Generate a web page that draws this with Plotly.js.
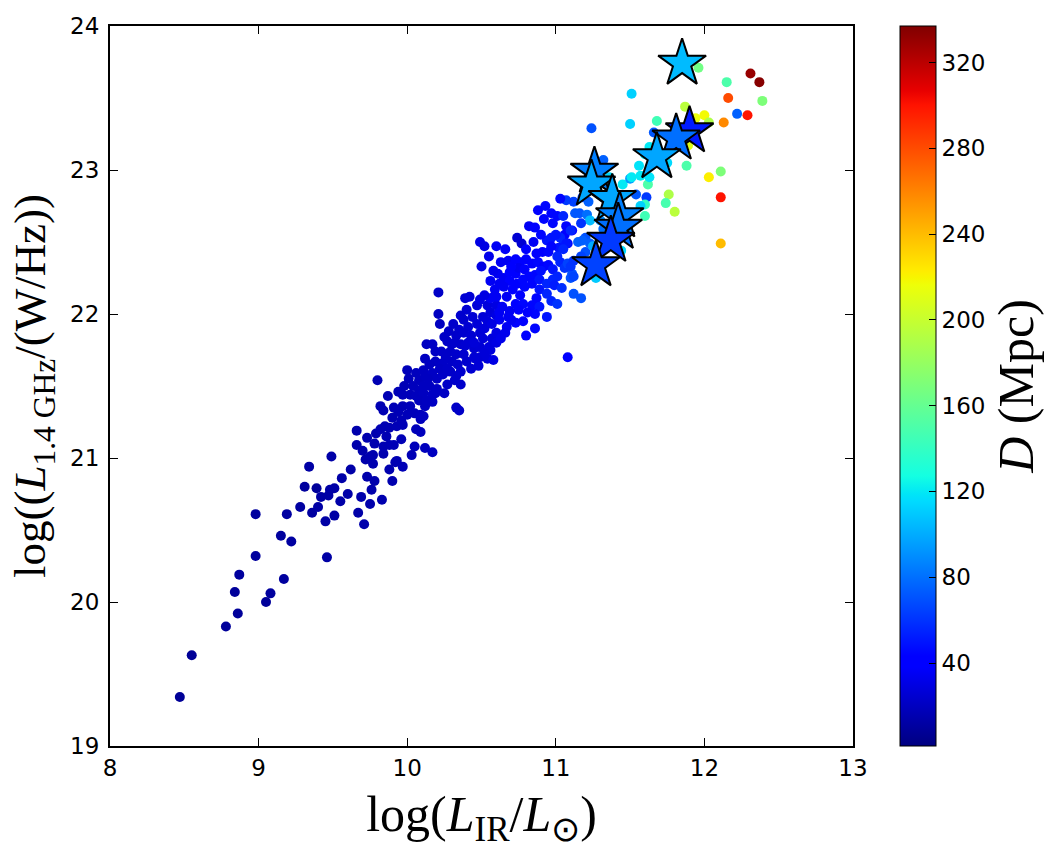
<!DOCTYPE html>
<html>
<head>
<meta charset="utf-8">
<script src="https://cdn.plot.ly/plotly-3.0.1.min.js"></script>
<style>
  html, body { margin: 0; padding: 0; background: #fff; }
  #chart { width: 1063px; height: 856px; }
</style>
</head>
<body>
<div id="chart"></div>
<script>
// Galaxy sample: infrared luminosity, 1.4 GHz radio luminosity, distance
const logLIR = [
  8.47, 8.55, 8.78, 8.86, 8.84, 8.87, 8.98, 8.98, 9.05, 9.08, 9.17, 9.15, 9.22, 9.19, 9.28, 9.36, 9.40, 9.31, 9.39, 9.34,
  9.42, 9.47, 9.48, 9.51, 9.45, 9.51, 9.46, 9.49, 9.56, 9.67, 9.71, 9.69, 9.75, 9.73, 9.76, 9.78, 9.83, 9.72, 9.75, 9.77,
  9.77, 9.84, 9.90, 9.92,
  10.21, 10.21, 10.22, 10.39, 10.42, 10.47, 10.54, 10.59, 10.60, 10.56, 10.60, 10.51, 10.54, 10.38, 10.41, 10.35, 10.33, 10.38, 10.43, 10.49,
  10.51, 10.57, 10.60, 10.27, 10.30, 10.36, 10.41, 10.45, 10.49, 10.55, 10.60, 10.13, 10.17, 10.12, 10.19, 10.23, 10.29, 10.33, 10.38, 10.19,
  10.24, 10.30, 10.34, 10.40, 10.45, 10.49, 10.54, 10.56, 10.46, 10.48, 10.58, 10.00, 10.01, 10.06, 10.08, 10.11, 10.12, 10.17, 10.20, 10.24,
  10.29, 10.33, 10.36, 10.32, 9.80, 10.04, 10.08, 10.11, 10.15, 10.20, 10.27, 9.94, 9.97, 10.02, 10.06, 10.11, 10.17, 10.19, 9.87, 9.82,
  9.84, 9.91, 9.94, 9.97, 10.02, 10.05, 10.09, 10.12, 10.17, 10.09, 10.11, 10.33, 10.35, 9.79, 9.82, 9.85, 9.88, 9.93, 9.96, 9.97,
  9.66, 9.66, 9.73, 9.84, 9.88, 9.91, 9.96, 10.05, 10.12, 10.17, 10.09, 9.93, 9.97,
  10.82, 11.07, 11.11, 11.06, 11.08, 11.03, 11.05, 11.02, 10.94, 10.97, 10.74, 10.77, 10.85, 10.49, 10.52, 10.50, 10.68, 10.73, 10.76, 10.80,
  10.84, 10.88, 10.92, 10.95, 10.98, 11.01, 10.91, 10.95, 10.97, 11.01, 11.03, 11.06, 11.08, 11.11, 11.10, 11.12, 11.12, 11.17, 11.08, 11.20,
  11.23, 11.20, 11.17, 11.30, 10.61, 10.65, 10.62, 10.69, 10.73, 10.75, 10.79, 10.82, 10.86, 10.69, 10.74, 10.78, 10.84, 10.89, 10.94, 10.98,
  10.89, 10.94, 10.87, 10.84, 10.89, 10.97, 11.01, 10.94, 10.71, 10.76, 10.79, 10.67, 10.73, 10.78, 10.75, 10.69, 10.64, 10.56, 10.59, 10.60,
  10.56, 10.52, 10.49, 10.62, 10.68, 10.73, 10.78, 10.67, 10.62, 10.80, 10.86,
  11.45, 11.50, 11.62, 11.54, 11.61, 11.60, 11.57, 11.60, 11.12, 11.07, 11.03, 10.93, 10.97, 11.01, 10.98, 11.13, 11.16, 11.21, 11.23, 11.17,
  11.10, 11.07, 11.15, 11.18, 11.12, 11.10, 11.25, 11.44, 11.27, 11.32, 11.36, 11.18, 11.22, 11.51, 11.57, 11.63, 11.56, 11.75, 11.63, 11.60,
  11.32,
  11.51, 11.50, 11.24, 11.68, 11.66, 11.87, 11.94, 12.00, 12.03, 11.89, 11.88, 12.03, 12.11, 12.11, 12.11, 11.76, 11.74, 11.80, 11.96, 12.15,
  12.31, 12.37, 12.39, 12.16, 12.29, 12.22, 12.13,
  10.44, 10.47, 10.52, 10.40, 10.36, 10.31, 10.28, 10.26, 10.22, 10.15, 10.14, 10.27, 10.43, 10.36, 10.52, 10.63, 10.66, 10.70, 10.65, 10.70,
  10.63, 10.58, 10.55, 10.60, 10.66, 10.80, 10.87, 10.90, 10.86, 10.92, 10.88, 11.00, 11.05, 10.99, 11.04, 11.05, 10.90, 10.86, 10.81, 10.57,
  10.45, 10.39, 10.32, 10.25, 10.08, 10.00, 9.98, 10.13, 10.25, 9.90, 9.86, 9.78, 9.70, 9.62, 9.60, 9.55, 9.88, 10.03, 10.06
];
const logL14 = [
  19.34, 19.63, 19.83, 19.92, 20.07, 20.19, 20.32, 20.61, 20.00, 20.06, 20.16, 20.46, 20.42, 20.61, 20.66, 20.62, 20.66, 20.80, 20.79, 20.94,
  20.73, 20.74, 20.78, 20.79, 20.56, 20.60, 20.31, 21.01, 20.86, 20.62, 20.54, 20.73, 20.68, 20.87, 20.78, 20.84, 20.71, 20.99, 21.01, 21.02,
  20.96, 21.03, 20.84, 20.97,
  22.15, 22.00, 21.93, 22.11, 22.12, 22.06, 22.06, 22.13, 22.06, 22.01, 21.99, 21.98, 21.95, 21.96, 21.91, 21.89, 21.85, 21.87, 21.85, 21.87,
  21.83, 21.83, 21.87, 21.81, 21.79, 21.79, 21.80, 21.76, 21.77, 21.77, 21.80, 21.79, 21.79, 21.69, 21.74, 21.74, 21.74, 21.72, 21.72, 21.67,
  21.66, 21.67, 21.65, 21.67, 21.70, 21.70, 21.69, 21.75, 21.69, 21.64, 21.68, 21.61, 21.55, 21.59, 21.54, 21.61, 21.57, 21.59, 21.55, 21.58,
  21.60, 21.57, 21.51, 21.54, 21.54, 21.50, 21.47, 21.50, 21.50, 21.48, 21.51, 21.46, 21.44, 21.44, 21.43, 21.45, 21.44, 21.45, 21.43, 21.36,
  21.33, 21.35, 21.32, 21.36, 21.36, 21.31, 21.30, 21.36, 21.39, 21.27, 21.29, 21.35, 21.33, 21.17, 21.20, 21.22, 21.21, 21.22, 21.26, 21.23,
  21.19, 21.09, 21.14, 21.08, 21.09, 21.09, 21.13, 21.08, 21.07, 21.04, 21.18, 20.98, 20.94,
  22.61, 22.61, 22.58, 22.55, 22.49, 22.53, 22.48, 22.46, 22.51, 22.53, 22.53, 22.49, 22.50, 22.50, 22.47, 22.33, 22.37, 22.38, 22.36, 22.38,
  22.35, 22.36, 22.33, 22.34, 22.31, 22.26, 22.43, 22.43, 22.47, 22.40, 22.36, 22.32, 22.35, 22.28, 22.25, 22.26, 22.14, 22.11, 21.70, 22.53,
  22.49, 22.43, 22.40, 22.65, 22.28, 22.25, 22.21, 22.29, 22.28, 22.32, 22.31, 22.26, 22.27, 22.23, 22.21, 22.24, 22.21, 22.24, 22.21, 22.24,
  22.17, 22.14, 22.11, 22.06, 22.05, 22.09, 22.07, 21.98, 22.17, 22.13, 22.19, 22.12, 22.07, 22.07, 22.03, 22.02, 22.05, 22.23, 22.17, 22.12,
  22.11, 22.13, 22.10, 22.01, 21.98, 21.94, 21.95, 21.91, 21.96, 21.85, 21.90,
  22.90, 22.94, 22.90, 22.83, 22.81, 22.76, 22.75, 22.68, 22.78, 22.79, 22.80, 22.75, 22.70, 22.68, 22.63, 22.70, 22.70, 22.69, 22.65, 22.63,
  22.58, 22.49, 22.50, 22.51, 22.37, 22.33, 22.47, 22.44, 22.25, 22.59, 22.95, 22.81, 22.78, 22.95, 22.96, 22.95, 23.03, 23.05, 23.16, 23.11,
  23.07,
  23.53, 23.32, 23.29, 23.34, 23.26, 23.44, 23.36, 23.38, 23.33, 23.17, 23.03, 22.95, 22.99, 22.81, 22.49, 22.83, 22.77, 22.71, 23.71, 23.61,
  23.67, 23.61, 23.48, 23.50, 23.38, 23.39, 23.33,
  21.98, 21.93, 21.90, 22.03, 21.99, 21.93, 21.88, 21.70, 21.62, 21.65, 21.55, 21.62, 21.62, 21.60, 21.73, 21.83, 21.87, 21.96, 22.19, 22.33,
  22.36, 22.30, 22.40, 22.47, 22.45, 22.45, 22.42, 22.55, 22.60, 22.66, 22.72, 22.55, 22.68, 22.20, 22.18, 22.45, 22.30, 22.00, 22.01, 21.93,
  21.80, 21.78, 21.80, 21.84, 21.40, 21.30, 21.50, 21.40, 21.45, 21.28, 21.15, 21.10, 21.05, 20.92, 20.75, 20.70, 20.92, 21.02, 21.20
];
const distMpc = [
  8, 8, 9, 9, 9, 10, 10, 10, 9, 10, 10, 10, 11, 11, 11, 11, 12, 10, 9, 12,
  12, 12, 12, 13, 12, 12, 12, 13, 13, 13, 14, 14, 14, 14, 14, 14, 15, 14, 15, 15,
  15, 15, 15, 16,
  22, 20, 20, 25, 26, 27, 28, 30, 30, 28, 30, 27, 28, 24, 25, 24, 23, 24, 25, 26,
  27, 28, 30, 22, 22, 23, 25, 25, 26, 28, 30, 20, 21, 20, 21, 22, 22, 23, 24, 21,
  22, 22, 23, 24, 25, 26, 27, 28, 26, 26, 30, 18, 18, 19, 19, 20, 20, 21, 21, 22,
  22, 23, 23, 23, 16, 19, 19, 20, 20, 21, 22, 17, 18, 18, 19, 20, 21, 21, 16, 16,
  16, 17, 17, 17, 18, 18, 19, 20, 21, 19, 20, 22, 22, 15, 16, 16, 16, 17, 17, 17,
  14, 14, 15, 16, 16, 17, 17, 18, 19, 20, 19, 16, 17,
  35, 42, 45, 40, 45, 55, 55, 50, 50, 50, 25, 25, 35, 30, 30, 30, 35, 40, 40, 40,
  40, 45, 40, 45, 50, 55, 40, 45, 45, 55, 55, 60, 65, 70, 70, 65, 70, 70, 40, 70,
  75, 70, 65, 90, 35, 35, 35, 40, 40, 35, 40, 45, 45, 40, 40, 45, 45, 50, 55, 55,
  50, 55, 45, 45, 50, 55, 60, 50, 40, 40, 45, 35, 40, 45, 40, 35, 35, 35, 35, 35,
  35, 30, 30, 35, 35, 40, 40, 35, 35, 40, 45,
  120, 95, 150, 72, 62, 140, 112, 145, 65, 62, 45, 45, 45, 45, 45, 72, 72, 80, 105, 60,
  55, 50, 75, 75, 60, 60, 100, 115, 110, 80, 115, 65, 75, 120, 120, 118, 118, 115, 120, 120,
  75,
  112, 112, 70, 145, 72, 195, 215, 218, 190, 210, 150, 222, 170, 300, 240, 190, 148, 195, 165, 150,
  330, 335, 170, 280, 300, 75, 258,
  26, 27, 28, 25, 24, 23, 22, 22, 21, 20, 20, 22, 25, 24, 27, 32, 33, 35, 35, 38,
  35, 33, 32, 35, 36, 40, 42, 45, 42, 45, 42, 50, 55, 52, 58, 55, 48, 45, 42, 30,
  27, 25, 23, 22, 19, 18, 17, 20, 21, 16, 16, 15, 14, 13, 13, 13, 15, 17, 18
];

// Highlighted sources, drawn as stars
const starLIR = [11.85, 11.90, 11.81, 11.68, 11.26, 11.24, 11.38, 11.43, 11.42, 11.37, 11.27];
const starL14 = [23.74, 23.27, 23.22, 23.09, 22.99, 22.90, 22.80, 22.68, 22.60, 22.51, 22.34];
const starD   = [105, 52, 80, 98, 85, 98, 98, 85, 80, 62, 65];

const xTicks = [8, 9, 10, 11, 12, 13];
const yTicks = [19, 20, 21, 22, 23, 24];
const cbTicks = [40, 80, 120, 160, 200, 240, 280, 320];

// matplotlib-style "jet"
const jet = [
  [0.000, 'rgb(0,0,128)'],
  [0.110, 'rgb(0,0,255)'],
  [0.125, 'rgb(0,0,255)'],
  [0.340, 'rgb(0,219,255)'],
  [0.350, 'rgb(0,229,247)'],
  [0.375, 'rgb(20,255,226)'],
  [0.640, 'rgb(238,255,8)'],
  [0.650, 'rgb(247,246,0)'],
  [0.660, 'rgb(255,236,0)'],
  [0.890, 'rgb(255,19,0)'],
  [0.910, 'rgb(232,0,0)'],
  [1.000, 'rgb(128,0,0)']
];

const tickFont = { family: 'DejaVu Sans', size: 23, color: '#000' };
const xTitleFont = { family: 'Liberation Serif', size: 50, color: '#000' };
const yTitleFont = { family: 'Liberation Serif', size: 45, color: '#000' };
const cbTitleFont = { family: 'Liberation Serif', size: 50, color: '#000' };

const galaxies = {
  type: 'scatter', mode: 'markers',
  x: logLIR, y: logL14,
  marker: { size: 10, color: distMpc, coloraxis: 'coloraxis', line: { width: 0 } },
  hoverinfo: 'skip', showlegend: false
};

const stars = {
  type: 'scatter', mode: 'markers',
  x: starLIR, y: starL14,
  marker: { symbol: 'star', size: 36, color: starD, coloraxis: 'coloraxis',
            line: { width: 2, color: '#000' } },
  hoverinfo: 'skip', showlegend: false
};

const axisBase = {
  ticks: 'inside', ticklen: 8, tickwidth: 1, tickcolor: '#000',
  showline: true, linecolor: '#000', linewidth: 2, mirror: 'ticks',
  showgrid: false, zeroline: false, tickfont: tickFont
};

const layout = {
  width: 1063, height: 856,
  margin: { l: 110, r: 210, t: 26, b: 110 },
  paper_bgcolor: '#fff', plot_bgcolor: '#fff',
  xaxis: Object.assign({}, axisBase, {
    range: [8, 13], tickvals: xTicks, ticktext: xTicks.map(String),
    title: { text: 'log(<i>L</i><sub>IR</sub>/<i>L</i><sub>⊙</sub>)', font: xTitleFont, standoff: 16 }
  }),
  yaxis: Object.assign({}, axisBase, {
    range: [19, 24], tickvals: yTicks, ticktext: yTicks.map(String),
    ticklabelstandoff: 4,
    title: { text: 'log((<i>L</i><sub>1.4 GHz</sub>/(W/Hz))', font: yTitleFont, standoff: 10 }
  }),
  coloraxis: {
    cmin: 1.3, cmax: 337, colorscale: jet,
    colorbar: {
      x: 1.0633, xanchor: 'left', y: 0.5, yanchor: 'middle',
      len: 1, lenmode: 'fraction', thickness: 36, thicknessmode: 'pixels',
      xpad: 0, ypad: 0, outlinewidth: 1, outlinecolor: '#000',
      tickvals: cbTicks, ticktext: cbTicks.map(String),
      ticks: 'inside', ticklen: 7, tickwidth: 1, tickcolor: '#000',
      tickfont: tickFont,
      title: { text: '<i>D</i> (Mpc)', side: 'right', font: cbTitleFont }
    }
  }
};

Plotly.newPlot('chart', [galaxies, stars], layout, { displayModeBar: false, staticPlot: true });
</script>
</body>
</html>
